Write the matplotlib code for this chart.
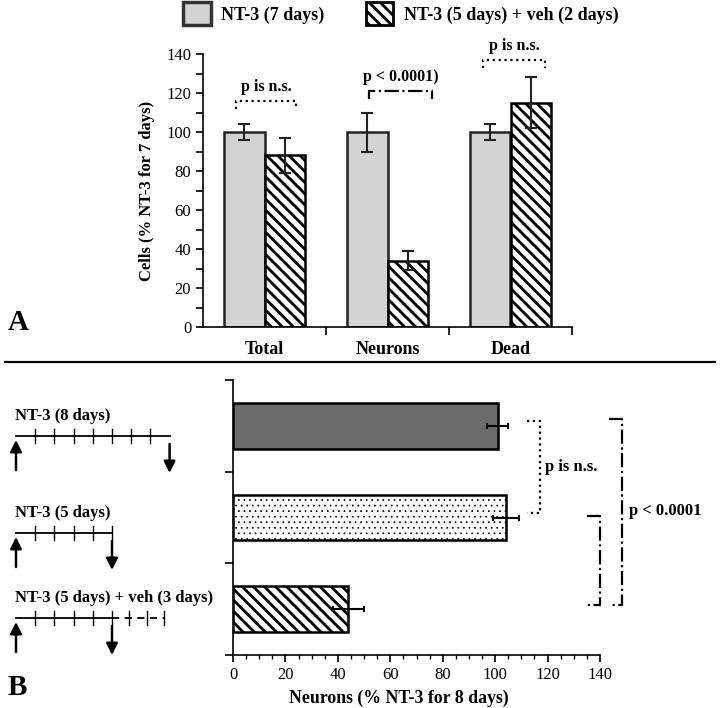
import matplotlib
matplotlib.use("Agg")
import matplotlib.pyplot as plt
import numpy as np
from matplotlib.patches import Patch
from matplotlib.lines import Line2D

plt.rcParams['font.family'] = ['Liberation Serif', 'DejaVu Serif']
plt.rcParams['hatch.linewidth'] = 2.0

# panel A data
groups = ["Total", "Neurons", "Dead"]
nt3_7 = [100, 100, 100]
nt3_7_err = [4, 10, 4]
nt3_veh2 = [88, 34, 115]
nt3_veh2_err = [9, 5, 13]
a_labels = ["NT-3 (7 days)", "NT-3 (5 days) + veh (2 days)"]
a_ptext = ["p is n.s.", "p < 0.0001)", "p is n.s."]
a_pstyle = [":", "-.", ":"]
a_py = [116, 121, 137]
a_left = [-0.23, -0.15, -0.22]
a_right = [0.26, 0.36, 0.28]

# panel B data
conditions = ["NT-3 (8 days)", "NT-3 (5 days)", "NT-3 (5 days) + veh (3 days)"]
neurons = [101, 104, 44]
neurons_err = [4, 5, 6]
nt3_days = [8, 5, 5]
veh_days = [0, 0, 3]

HATCH = '\\\\\\'

fig = plt.figure(figsize=(7.2, 7.08), dpi=100)

# ---- panel A ----
ax = fig.add_axes([203/720, 1-327/708, 369/720, 273/708])
x = np.arange(len(groups))
w = 0.333
ax.bar(x - w/2, nt3_7, w, color='#d3d3d3', edgecolor='#222222', lw=1.8, zorder=2)
ax.bar(x + w/2, nt3_veh2, w, color='white', edgecolor='black', hatch=HATCH, lw=1.8, zorder=2)
ax.errorbar(x - w/2, nt3_7, yerr=nt3_7_err, fmt='none', ecolor='#222222', elinewidth=1.5, capsize=4, capthick=1.5, zorder=3)
ax.errorbar(x + w/2, nt3_veh2, yerr=nt3_veh2_err, fmt='none', ecolor='#222222', elinewidth=1.5, capsize=4, capthick=1.5, zorder=3)
ax.set_xlim(-0.5, 2.5)
ax.set_ylim(0, 140)
for s in ['top', 'right']:
    ax.spines[s].set_visible(False)
ax.spines['left'].set_linewidth(1.2)
ax.spines['bottom'].set_linewidth(1.2)
ax.set_xticks(x)
ax.set_xticklabels(groups, fontsize=13, fontweight='bold')
ax.tick_params(axis='x', length=0, pad=10)
ax.set_xticks([0.5, 1.5, 2.5], minor=True)
ax.tick_params(axis='x', which='minor', length=6, width=1.2, direction='out')
ax.set_yticks(np.arange(0, 141, 20))
ax.set_yticks(np.arange(10, 140, 20), minor=True)
ax.tick_params(axis='y', which='both', length=5, width=1.2, labelsize=12)
ax.set_ylabel("Cells (% NT-3 for 7 days)", fontsize=12, fontweight='bold', labelpad=8)
for i in range(len(groups)):
    xl, xr = i + a_left[i], i + a_right[i]
    yb = a_py[i]
    ax.plot([xl, xl, xr, xr], [yb - 4, yb, yb, yb - 4], ls=a_pstyle[i], color='black', lw=1.6, clip_on=False)
    ax.text((xl + xr) / 2, yb + 3, a_ptext[i], ha='center', va='bottom', fontsize=11.5, fontweight='bold')

fig.legend(handles=[Patch(facecolor='#d3d3d3', edgecolor='#333333', lw=2.5),
                    Patch(facecolor='white', edgecolor='black', hatch=HATCH, lw=2)],
           labels=a_labels, loc='upper center', bbox_to_anchor=(0.557, 1.02), ncol=2,
           frameon=False, handlelength=1.5, handleheight=1.6, handletextpad=0.6, columnspacing=2.3,
           prop={'size': 13, 'weight': 'bold'})

fig.text(8/720, 1-336/708, "A", fontsize=21, fontweight='bold', ha='left', va='bottom')
fig.add_artist(Line2D([5/720, 715/720], [1-362/708, 1-362/708], color='black', lw=1.6))

# ---- panel B ----
bx = fig.add_axes([233/720, 1-655/708, 367/720, 275/708])
yb_ = np.arange(len(conditions))
bars = bx.barh(yb_, neurons, 0.5, color=['#6b6b6b', 'white', 'white'], edgecolor='black', lw=1.8,
               hatch=[None, '...', HATCH], zorder=2)
if hasattr(bars[1], 'set_hatch_linewidth'):
    bars[1].set_hatch_linewidth(0.5)
bx.errorbar(neurons, yb_, xerr=neurons_err, fmt='none', ecolor='black', elinewidth=1.5,
            capsize=2.5, capthick=1.5, zorder=3)
bx.set_ylim(2.5, -0.5)
bx.set_xlim(0, 140)
for s in ['top', 'right']:
    bx.spines[s].set_visible(False)
bx.spines['left'].set_linewidth(1.2)
bx.spines['bottom'].set_linewidth(1.2)
bx.set_yticks([-0.5, 0.5, 1.5, 2.5])
bx.set_yticklabels([])
bx.tick_params(axis='y', length=6, width=1.2)
bx.set_xticks(np.arange(0, 141, 20))
bx.set_xticks(np.arange(0, 141, 5), minor=True)
bx.tick_params(axis='x', which='major', length=5, width=1.2, labelsize=12)
bx.tick_params(axis='x', which='minor', length=3, width=1.0)
bx.set_xlabel("Neurons (% NT-3 for 8 days)", fontsize=12.8, fontweight='bold')
bx.xaxis.set_label_coords(0.452, -0.125)

# significance brackets
bx.plot([112, 117, 117, 112], [-0.05, -0.05, 0.95, 0.95], ls=':', color='black', lw=1.6, clip_on=False)
bx.text(119, 0.45, "p is n.s.", fontsize=12, fontweight='bold', va='center')
bx.plot([135, 140, 140, 135], [0.98, 0.98, 1.95, 1.95], ls='-.', color='black', lw=1.6, clip_on=False)
bx.plot([143.5, 148.5, 148.5, 143.5], [-0.07, -0.07, 1.95, 1.95], ls='-.', color='black', lw=1.6, clip_on=False)
bx.text(151, 0.93, "p < 0.0001", fontsize=12, fontweight='bold', va='center')

# treatment timelines on the left
dx = fig.add_axes([0, 0, 1, 1], zorder=-1)
dx.set_xlim(0, 720)
dx.set_ylim(708, 0)
dx.axis('off')
x0, day_px = 16, 19.2
line_y = [436, 533, 618]
arrow = dict(arrowstyle='-|>', color='black', lw=1.8, mutation_scale=17, shrinkA=0, shrinkB=0)
for i, name in enumerate(conditions):
    ly = line_y[i]
    dx.text(15, ly - 12, name, fontsize=12, fontweight='bold', ha='left', va='bottom')
    xe = x0 + nt3_days[i] * day_px
    dx.plot([x0, xe], [ly, ly], color='black', lw=1.3)
    last = nt3_days[i] if (veh_days[i] > 0 or nt3_days[i] < 8) else nt3_days[i] - 1
    for d in range(1, last + 1):
        xt = x0 + d * day_px
        dx.plot([xt, xt], [ly - 7, ly + 7], color='black', lw=1.0)
    if veh_days[i]:
        xv = x0 + (nt3_days[i] + veh_days[i]) * day_px * 0.97
        dx.plot([xe, xv], [ly, ly], color='black', lw=1.3, ls=(0, (4, 3)))
        for d in range(1, veh_days[i] + 1):
            xt = xe + d * day_px * 0.9
            dx.plot([xt, xt], [ly - 7, ly + 7], color='black', lw=1.0)
    dx.annotate("", xy=(x0, ly + 4), xytext=(x0, ly + 34), arrowprops=arrow)
    dx.annotate("", xy=(xe, ly + 37), xytext=(xe, ly + 8), arrowprops=arrow)

fig.text(8/720, 1-701/708, "B", fontsize=21, fontweight='bold', ha='left', va='bottom')

fig.savefig("out.png", dpi=100)
